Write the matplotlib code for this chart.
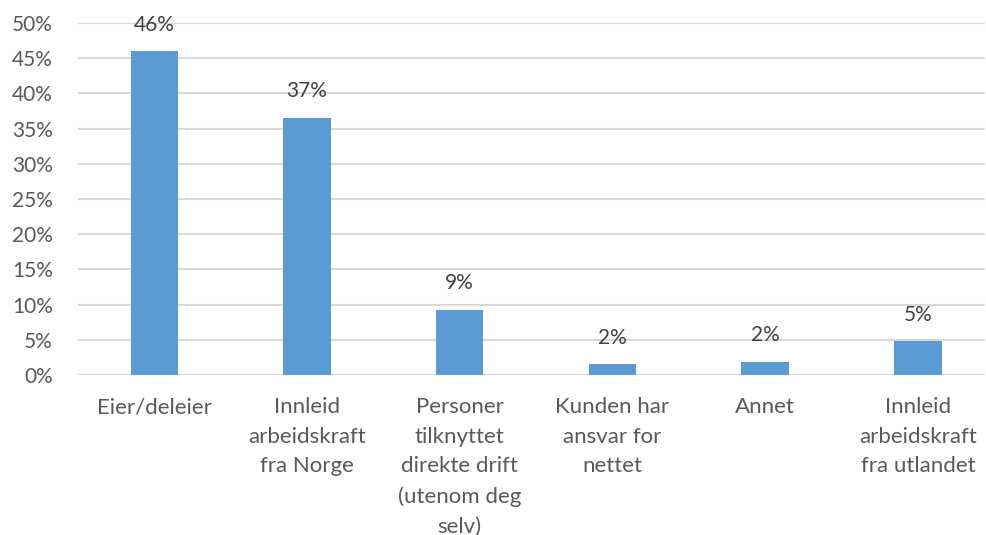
import matplotlib.pyplot as plt
from matplotlib.ticker import PercentFormatter

categories = ["Eier/deleier", "Innleid\narbeidskraft\nfra Norge",
              "Personer\ntilknyttet\ndirekte drift\n(utenom deg\nselv)",
              "Kunden har\nansvar for\nnettet", "Annet",
              "Innleid\narbeidskraft\nfra utlandet"]
values = [0.460, 0.365, 0.093, 0.015, 0.019, 0.048]
value_labels = ["46%", "37%", "9%", "2%", "2%", "5%"]
yticks = [0, 0.05, 0.10, 0.15, 0.20, 0.25, 0.30, 0.35, 0.40, 0.45, 0.50]

plt.rcParams['font.family'] = ['Lato', 'DejaVu Sans']
text_col = '#595959'

fig = plt.figure(figsize=(9.87, 5.35), dpi=100)
ax = fig.add_axes([0.079, 0.299, 0.919, 0.658])

x = list(range(len(categories)))
bars = ax.bar(x, values, width=0.31, color='#5B9BD5', zorder=3)

for rect, lab in zip(bars, value_labels):
    ax.annotate(lab, (rect.get_x() + rect.get_width() / 2, rect.get_height()),
                xytext=(0, 12), textcoords='offset points', ha='center', va='bottom',
                fontsize=15, color='#404040')

ax.set_ylim(0, 0.5)
ax.set_xlim(-0.5, 5.44)
ax.set_yticks(yticks)
ax.yaxis.set_major_formatter(PercentFormatter(1.0, decimals=0))
ax.set_xticks(x)
ax.set_xticklabels(categories, linespacing=1.6)
ax.tick_params(axis='y', length=0, pad=18, labelsize=15, labelcolor=text_col)
ax.tick_params(axis='x', length=0, pad=16, labelsize=16, labelcolor=text_col)
ax.grid(axis='y', color='#d9d9d9', linewidth=1.5, zorder=0)
for s in ax.spines.values():
    s.set_visible(False)

fig.savefig('out.png', dpi=100)
